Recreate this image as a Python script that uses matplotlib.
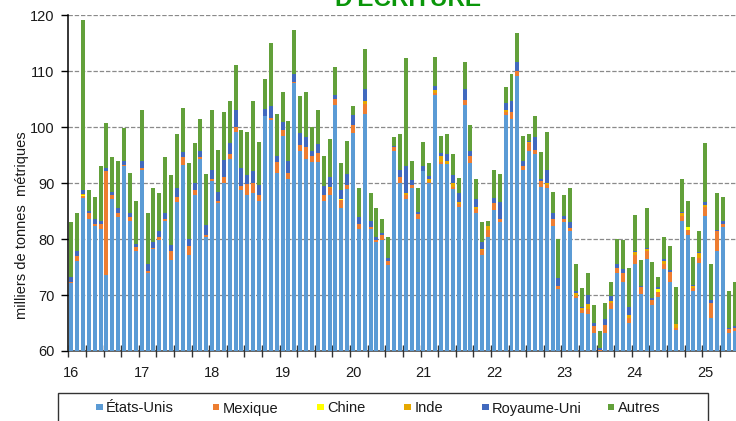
import numpy as np
import matplotlib
matplotlib.use("Agg")
import matplotlib.pyplot as plt
from matplotlib.patches import Rectangle

plt.rcParams['font.family'] = ['Liberation Sans', 'DejaVu Sans']

# Monthly series, January 2016 to June 2025 (thousand metric tonnes)
etats_unis = [
    72.1, 76.1, 87.4, 83.6, 82.4, 81.8, 73.6, 87.1, 83.9, 93.0, 83.3, 77.8,
    92.4, 73.9, 78.2, 79.8, 83.3, 76.3, 86.6, 93.3, 77.2, 87.8, 94.3, 80.4,
    90.4, 86.4, 90.1, 94.3, 99.1, 88.8, 87.8, 88.2, 86.8, 102.0, 101.3, 91.8,
    98.5, 90.7, 107.9, 95.8, 94.3, 93.7, 93.7, 86.8, 87.9, 104.0, 85.6, 88.9,
    98.9, 81.8, 102.4, 81.8, 79.4, 79.8, 75.3, 95.7, 90.1, 87.2, 89.1, 83.6,
    92.1, 90.1, 105.8, 93.4, 93.4, 88.9, 85.7, 104.0, 93.6, 84.6, 77.2, 80.4,
    85.2, 83.0, 102.1, 101.4, 109.2, 92.4, 95.8, 95.2, 89.4, 89.1, 82.3, 71.0,
    83.0, 81.4, 69.4, 66.8, 66.7, 63.2, 59.8, 63.3, 67.5, 73.9, 72.3, 65.0,
    75.5, 70.1, 76.5, 68.2, 69.6, 74.6, 72.3, 63.8, 83.3, 80.7, 70.7, 75.8,
    84.2, 65.9, 77.8, 82.1, 63.3, 63.6,
]
mexique = [
    0.3, 0.8, 0.3, 1.0, 0.3, 0.9, 18.5, 0.8, 0.7, 0.3, 0.6, 0.7,
    0.3, 0.4, 0.2, 0.6, 0.3, 1.5, 1.0, 1.3, 1.6, 0.9, 0.3, 0.4,
    0.4, 0.4, 1.0, 0.9, 1.0, 0.7, 2.1, 1.9, 1.1, 0.0, 0.4, 1.9,
    1.0, 1.1, 0.1, 1.0, 2.2, 1.1, 1.7, 1.1, 1.2, 1.1, 1.3, 0.8,
    1.5, 0.9, 1.8, 0.3, 0.4, 1.0, 0.7, 0.7, 1.0, 0.7, 0.6, 0.8,
    0.1, 0.1, 0.4, 0.4, 0.0, 0.5, 0.6, 0.8, 1.2, 0.8, 0.8, 1.3,
    1.2, 0.6, 0.7, 1.3, 0.9, 0.7, 1.3, 0.8, 0.9, 0.6, 1.3, 0.7,
    0.6, 0.6, 0.4, 0.5, 0.8, 1.3, 0.3, 1.3, 1.1, 1.0, 1.6, 0.9,
    1.7, 1.3, 1.3, 1.0, 0.9, 0.9, 1.9, 0.4, 0.9, 1.0, 0.6, 0.8,
    1.6, 2.6, 3.6, 0.6, 0.6, 0.6,
]
chine = [
    0.0, 0.0, 0.2, 0.0, 0.0, 0.0, 0.0, 0.0, 0.0, 0.0, 0.0, 0.0,
    0.0, 0.0, 0.0, 0.0, 0.0, 0.0, 0.0, 0.0, 0.0, 0.0, 0.0, 0.0,
    0.0, 0.0, 0.0, 0.0, 0.0, 0.0, 0.0, 0.0, 0.0, 0.0, 0.0, 0.0,
    0.0, 0.0, 0.0, 0.0, 0.0, 0.0, 0.0, 0.0, 0.0, 0.0, 0.3, 0.0,
    0.0, 0.0, 0.0, 0.0, 0.0, 0.0, 0.0, 0.0, 0.0, 0.0, 0.0, 0.0,
    0.0, 0.0, 0.0, 0.0, 0.0, 0.0, 0.0, 0.0, 0.0, 0.0, 0.0, 0.0,
    0.0, 0.0, 0.0, 0.0, 0.0, 0.0, 0.0, 0.0, 0.0, 0.0, 0.0, 0.0,
    0.0, 0.0, 0.0, 0.0, 0.0, 0.0, 0.0, 0.0, 0.0, 0.0, 0.0, 0.0,
    0.0, 0.0, 0.0, 0.0, 0.5, 0.0, 0.0, 0.0, 0.0, 0.4, 0.0, 0.0,
    0.0, 0.0, 0.0, 0.0, 0.0, 0.0,
]
inde = [
    0.0, 0.0, 0.2, 0.0, 0.0, 0.0, 0.0, 0.0, 0.0, 0.0, 0.0, 0.0,
    0.0, 0.0, 0.0, 0.0, 0.0, 0.0, 0.0, 0.0, 0.0, 0.0, 0.0, 0.0,
    0.0, 0.0, 0.0, 0.0, 0.0, 0.0, 0.0, 0.0, 0.0, 0.0, 0.0, 0.0,
    0.0, 0.0, 0.0, 0.0, 0.0, 0.0, 0.0, 0.0, 0.3, 0.0, 0.0, 0.0,
    0.0, 0.0, 0.4, 0.0, 0.0, 0.0, 0.0, 0.0, 0.0, 0.3, 0.0, 0.0,
    0.0, 0.5, 0.5, 1.1, 0.5, 0.6, 0.3, 0.0, 0.0, 0.3, 0.2, 0.6,
    0.0, 0.0, 0.3, 0.0, 0.0, 0.0, 0.3, 0.0, 0.0, 0.4, 0.0, 0.0,
    0.0, 0.0, 0.6, 0.3, 0.9, 0.0, 0.0, 0.0, 0.3, 0.0, 0.0, 0.6,
    0.5, 0.0, 0.4, 0.0, 0.0, 0.5, 0.0, 0.7, 0.4, 0.0, 0.4, 0.9,
    0.3, 0.0, 0.0, 0.0, 0.0, 0.0,
]
royaume_uni = [
    0.9, 0.9, 0.7, 0.5, 0.9, 0.6, 0.6, 0.6, 0.9, 0.6, 0.7, 0.6,
    1.2, 1.3, 1.1, 1.0, 1.0, 1.2, 1.5, 0.9, 1.3, 1.4, 1.2, 1.8,
    1.5, 1.7, 3.1, 1.9, 2.9, 3.2, 1.5, 2.0, 1.8, 1.3, 2.0, 1.2,
    1.5, 2.2, 1.5, 2.1, 1.7, 0.9, 1.6, 1.6, 1.7, 0.7, 1.6, 2.0,
    1.7, 1.2, 2.2, 1.2, 0.6, 0.3, 0.6, 0.3, 1.2, 4.8, 0.9, 0.5,
    0.8, 0.6, 0.7, 0.5, 1.3, 1.4, 1.6, 2.1, 1.0, 1.4, 1.2, 0.1,
    1.0, 3.0, 1.2, 1.9, 1.6, 0.8, 0.2, 2.2, 0.4, 2.3, 1.0, 1.3,
    0.6, 1.0, 0.3, 0.3, 1.6, 0.5, 0.4, 1.2, 0.9, 0.6, 0.7, 1.4,
    0.1, 0.3, 0.2, 0.2, 0.4, 0.5, 0.3, 0.0, 0.3, 0.0, 0.1, 0.2,
    0.5, 0.6, 0.3, 0.5, 0.2, 0.3,
]
autres = [
    9.7, 6.8, 30.4, 3.7, 3.9, 9.8, 8.0, 6.1, 8.5, 5.9, 7.2, 7.7,
    9.2, 9.0, 9.6, 6.8, 10.0, 12.4, 9.7, 7.9, 13.5, 7.0, 5.6, 9.1,
    10.8, 7.5, 8.5, 7.6, 8.1, 6.8, 7.8, 12.6, 7.6, 5.3, 11.3, 7.5,
    5.3, 7.1, 7.8, 6.7, 8.1, 4.4, 6.1, 5.3, 6.8, 5.0, 4.8, 5.8,
    1.6, 5.2, 7.2, 4.9, 5.1, 2.5, 3.8, 1.5, 6.5, 19.3, 3.4, 4.2,
    4.4, 2.3, 5.2, 3.1, 3.6, 3.8, 2.8, 4.8, 4.6, 3.6, 3.6, 0.9,
    5.0, 5.1, 2.8, 4.9, 5.2, 4.6, 1.2, 3.8, 4.8, 6.7, 3.8, 7.1,
    3.6, 6.1, 4.8, 3.3, 3.9, 3.3, 3.1, 2.7, 2.5, 4.6, 5.2, 7.0,
    6.5, 4.5, 7.1, 6.5, 1.9, 3.9, 4.2, 6.5, 5.8, 4.7, 5.0, 3.7,
    10.5, 6.4, 6.5, 4.3, 6.7, 7.8,
]

series_names = ["États-Unis", "Mexique", "Chine", "Inde", "Royaume-Uni", "Autres"]
series_colors = ["#5B9BD5", "#ED7D31", "#FFFF00", "#E6A800", "#4169BE", "#62A03A"]
year_labels = ["16", "17", "18", "19", "20", "21", "22", "23", "24", "25"]

W, H = 736, 421
fig = plt.figure(figsize=(W / 100, H / 100), dpi=100)

# plot area in pixel units, converted to figure fractions
left_px, right_px, top_px, bottom_px = 68.3, 737.5, 15.3, 351.0
ax = fig.add_axes([left_px / W, 1 - bottom_px / H,
                   (right_px - left_px) / W, (bottom_px - top_px) / H])

data = [etats_unis, mexique, chine, inde, royaume_uni, autres]
n = len(etats_unis)
x = np.arange(n)
base = np.zeros(n)
for vals, col in zip(data, series_colors):
    vals = np.asarray(vals, dtype=float)
    ax.bar(x, vals, bottom=base, width=0.68, color=col, linewidth=0, zorder=3)
    base += vals

ax.set_xlim(-0.5, n - 0.5)
ax.set_ylim(60, 120)
ax.set_yticks(np.arange(60, 121, 10))
ax.tick_params(axis='y', direction='out', length=5, width=1, labelsize=10.5,
               pad=5, color='black', labelcolor='#1a1a1a')
for yv in range(70, 121, 10):
    ax.axhline(yv, color='#8a8a8a', linewidth=0.9, linestyle=(0, (3.5, 1.5)), zorder=1)

# quarterly tick marks, year labels under each January
ax.set_xticks(np.arange(-0.5, n, 3))
ax.set_xticklabels([])
ax.tick_params(axis='x', which='major', direction='inout', length=8, width=1,
               color='#333333')
ax.set_xticks(np.arange(0, n, 12), minor=True)
ax.set_xticklabels(year_labels, minor=True)
ax.tick_params(axis='x', which='minor', length=0, pad=11, labelsize=10.5,
               labelcolor='#1a1a1a')

for s in ['top', 'right']:
    ax.spines[s].set_visible(False)
ax.spines['left'].set_color('black')
ax.spines['left'].set_linewidth(1.1)
ax.spines['bottom'].set_color('#595959')
ax.spines['bottom'].set_linewidth(1.3)
ax.set_axisbelow(False)

fig.text(21.7 / W, 1 - 225 / H, "milliers de tonnes  métriques", rotation=90,
         ha='center', va='center', fontsize=10.5, color='#1a1a1a')

fig.text(408 / W, 1 - 6.5 / H, "D'ÉCRITURE", ha='center', va='baseline',
         fontsize=17.5, fontweight='bold', color='#0A960A')

# legend box along the bottom edge
fig.add_artist(Rectangle((58 / W, 1 - 430 / H), 650 / W, 37 / H,
                         transform=fig.transFigure, facecolor='none',
                         edgecolor='#333333', linewidth=1.0))
sq_x = [96, 212.5, 317, 404.5, 482, 607.5]
txt_x = [106, 223, 327.5, 415, 492, 618]
for name, col, sx, tx in zip(series_names, series_colors, sq_x, txt_x):
    fig.add_artist(Rectangle((sx / W, 1 - 410 / H), 6.5 / W, 6.5 / H,
                             transform=fig.transFigure, facecolor=col,
                             edgecolor='none'))
    fig.text(tx / W, 1 - 408.5 / H, name, ha='left', va='center',
             fontsize=10.5, color='#1a1a1a')

fig.savefig("out.png", dpi=100)
